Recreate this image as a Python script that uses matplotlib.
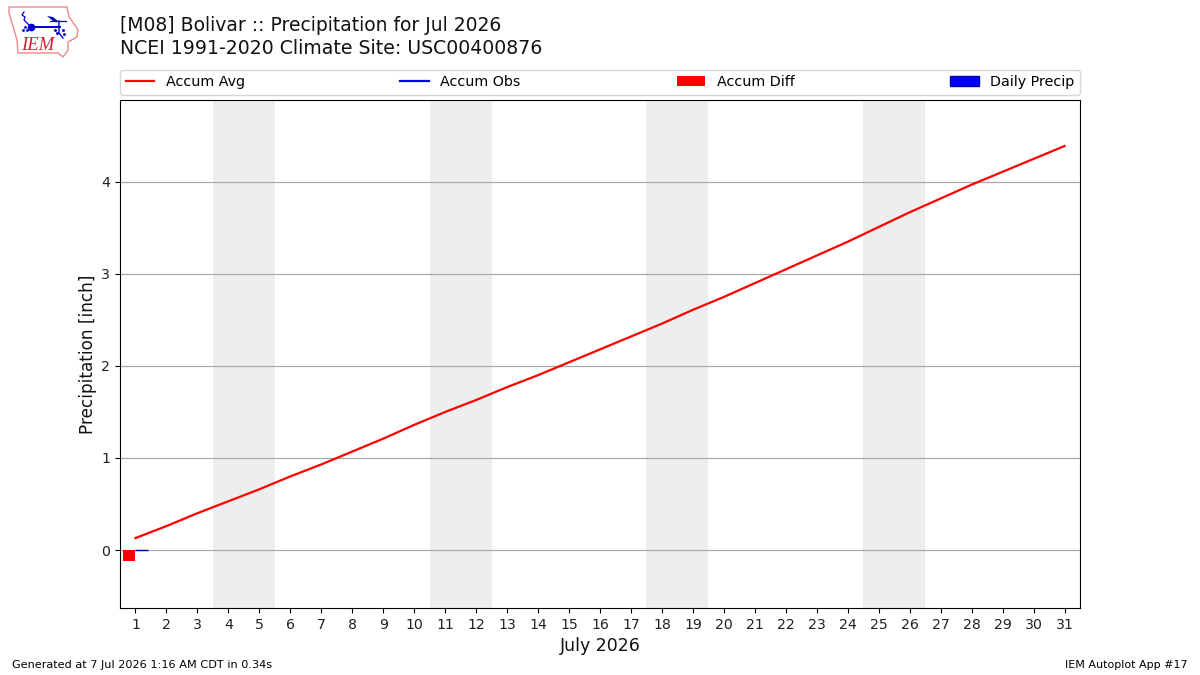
import matplotlib
matplotlib.use("Agg")
import matplotlib.pyplot as plt
from matplotlib.patches import Polygon

days = list(range(1, 32))
accum_avg = [0.13, 0.26, 0.40, 0.53, 0.66, 0.80, 0.93, 1.07, 1.21, 1.36,
             1.50, 1.63, 1.77, 1.90, 2.04, 2.18, 2.32, 2.46, 2.61, 2.75,
             2.90, 3.05, 3.20, 3.35, 3.51, 3.67, 3.82, 3.97, 4.11, 4.25, 4.39]
obs_days = [1]
accum_obs = [0.0]
accum_diff = [-0.12]
daily_precip = [0.0]
weekend_starts = [3.5, 10.5, 17.5, 24.5]

W, H = 1200, 675
fig = plt.figure(figsize=(12, 6.75), dpi=100)
ax = fig.add_axes([120 / W, 1 - 608 / H, 960 / W, 508 / H])

for start in weekend_starts:
    ax.axvspan(start, start + 2, color="#eeeeee", lw=0, zorder=0)
ax.grid(axis="y", color="#aaaaaa", lw=0.9, zorder=1)
ax.set_axisbelow(True)

ax.bar(obs_days, accum_diff, width=-0.4, align="edge", color="r", label="Accum Diff", zorder=2)
ax.bar(obs_days, daily_precip, width=0.4, align="edge", color="b", edgecolor="#0000aa",
       linewidth=1.0, label="Daily Precip", zorder=2)
ax.plot(days, accum_avg, color="r", lw=1.6, label="Accum Avg", zorder=3)
ax.plot(obs_days, accum_obs, color="b", lw=1.6, label="Accum Obs", zorder=3)

ax.set_xlim(0.5, 31.5)
ax.set_ylim(-0.63, 4.89)
ax.set_xticks(days)
ax.set_yticks([0, 1, 2, 3, 4])
ax.tick_params(labelsize=10.2, labelcolor="#222222")
ax.set_ylabel("Precipitation [inch]", fontsize=12.2, labelpad=3, color="#111111")
ax.set_xlabel("July 2026", fontsize=12.5, labelpad=4, color="#111111")

handles, labels = ax.get_legend_handles_labels()
order = [labels.index(n) for n in ["Accum Avg", "Accum Obs", "Accum Diff", "Daily Precip"]]
ax.legend([handles[i] for i in order], [labels[i] for i in order], ncol=4, mode="expand",
          loc="lower left", bbox_to_anchor=(0, 1.0098, 1, 0.05), borderaxespad=0, fontsize=10.3)

fig.text(120 / W, 1 - 25.5 / H, "[M08] Bolivar :: Precipitation for Jul 2026", fontsize=13.5, va="center", color="#111111")
fig.text(120 / W, 1 - 48.5 / H, "NCEI 1991-2020 Climate Site: USC00400876", fontsize=13.55, va="center", color="#111111")
fig.text(12 / W, 1 - 665 / H, "Generated at 7 Jul 2026 1:16 AM CDT in 0.34s", fontsize=8.1, va="center")
fig.text(1188 / W, 1 - 665 / H, "IEM Autoplot App #17", fontsize=8, va="center", ha="right")

# Iowa-outline logo, laid out in pixel units on its own overlay axes
logo = fig.add_axes([0, 0, 1, 1], facecolor="none")
logo.set_xlim(0, W)
logo.set_ylim(H, 0)
logo.axis("off")
outline = [(9, 7), (67, 7), (69, 17), (74, 24), (78, 30), (77, 37), (68, 42), (68, 50),
           (63, 57), (58, 53), (18, 53), (17, 40), (12, 23), (9, 13)]
logo.add_patch(Polygon(outline, closed=True, fill=False, ec="#ee8888", lw=1))
logo.plot([31, 60], [27, 27], color="#0000cc", lw=1.4)
logo.plot([31], [27], "o", color="#0000cc", ms=4.5)
logo.plot([24, 22, 25, 24, 31], [12, 15, 17, 20, 27], color="#0000cc", lw=0.9)
logo.add_patch(Polygon([(47, 16), (53, 17), (59, 22), (53, 21)], closed=True, color="#0000cc", lw=0))
logo.plot([50, 66], [21, 21], color="#0000cc", lw=0.9)
logo.plot([59, 59, 63], [21, 33, 38], color="#0000cc", lw=1)
logo.plot([55, 57, 63, 64], [30, 33, 30, 34], ".", color="#0000cc", ms=2.2)
logo.plot([23, 25, 27], [30, 27, 30], ".", color="#0000cc", ms=2)
logo.text(37.5, 45, "IEM", color="#cc2233", family="Liberation Serif", style="italic", fontsize=13.5,
          ha="center", va="center")

fig.savefig("out.png", dpi=100)
